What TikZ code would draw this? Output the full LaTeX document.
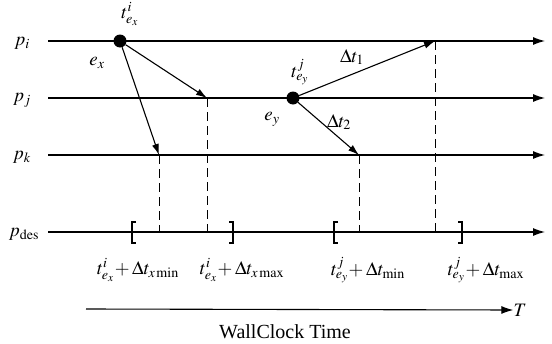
\documentclass[tikz,border=0pt]{standalone}
\usepackage{mathptmx}
\usepackage{fontspec}
\setmainfont{Liberation Serif}
\usetikzlibrary{arrows.meta}
\begin{document}
\begin{tikzpicture}[x=1pt,y=-1pt,
  lane/.style={line width=1.1pt,-{Latex[length=12pt,width=8pt]}},
  msg/.style={line width=1.1pt,-{Latex[length=11pt,width=7pt]}},
  guide/.style={line width=0.8pt,dash pattern=on 9pt off 5pt},
  lbl/.style={font=\fontsize{19}{21}\selectfont,inner sep=0pt},
  evt/.style={circle,fill=black,minimum size=13pt,inner sep=0pt},
  brk/.style={line width=1.4pt}]
\useasboundingbox (0,0) rectangle (552,343);
% lane ends
\coordinate (li0) at (48,41);  \coordinate (li1) at (545,41);
\coordinate (lj0) at (48,98);  \coordinate (lj1) at (545,98);
\coordinate (lk0) at (48,155); \coordinate (lk1) at (545,155);
\coordinate (ld0) at (48,232); \coordinate (ld1) at (545,232);
\draw[lane] (li0) -- (li1);
\draw[lane] (lj0) -- (lj1);
\draw[lane] (lk0) -- (lk1);
\draw[lane] (ld0) -- (ld1);
\node[lbl] (pi) at (22,43) {$p_i$};
\node[lbl] (pj) at (22,100) {$p_j$};
\node[lbl] (pk) at (22,157) {$p_k$};
\node[lbl] (pd) at (24,234) {$p_{\mathrm{des}}$};
% events
\node[evt] (ex) at (120,41) {};
\node[evt] (ey) at (293,98) {};
\coordinate (rj) at (207,98);
\coordinate (rk) at (159,155);
\coordinate (ri) at (435,41);
\coordinate (rk2) at (359,155);
\coordinate (dj) at (207,232);
\coordinate (dk) at (159,232);
\coordinate (di) at (435,232);
\coordinate (dk2) at (359,232);
\draw[msg] (ex) -- (rj);
\draw[msg] (ex) -- (rk);
\draw[msg] (ey) -- (ri);
\draw[msg] (ey) -- (rk2);
\draw[guide] (rj) -- (dj);
\draw[guide] (rk) -- (dk);
\draw[guide] (ri) -- (di);
\draw[guide] (rk2) -- (dk2);
% brackets
\coordinate (b1) at (132,222);
\coordinate (b2) at (233,222);
\coordinate (b3) at (334,222);
\coordinate (b4) at (462,222);
\draw[brk] ([xshift=4pt]b1) -- (b1) -- ++(0,21) -- ++(4,0);
\draw[brk] ([xshift=-4pt]b2) -- (b2) -- ++(0,21) -- ++(-4,0);
\draw[brk] ([xshift=4pt]b3) -- (b3) -- ++(0,21) -- ++(4,0);
\draw[brk] ([xshift=-4pt]b4) -- (b4) -- ++(0,21) -- ++(-4,0);
% labels
\node[lbl] (tex) at (130,14) {$t^{i}_{e_x}$};
\node[lbl] (lex) at (97,63) {$e_x$};
\node[lbl] (tey) at (300,72) {$t^{j}_{e_y}$};
\node[lbl] (ley) at (272,119) {$e_y$};
\node[lbl] (dt1) at (352,57) {$\Delta t_1$};
\node[lbl] (dt2) at (339,122) {$\Delta t_2$};
\node[lbl] (m1) at (138,270) {$t^{i}_{e_x}\!+\Delta t_{x\,\mathrm{min}}$};
\node[lbl] (m2) at (242,270) {$t^{i}_{e_x}\!+\Delta t_{x\,\mathrm{max}}$};
\node[lbl] (m3) at (368,270) {$t^{j}_{e_y}\!+\Delta t_{\mathrm{min}}$};
\node[lbl] (m4) at (486,270) {$t^{j}_{e_y}\!+\Delta t_{\mathrm{max}}$};
% time axis
\coordinate (t0) at (86,309);
\node[lbl] (T) at (520,310) {$T$};
\draw[lane] (t0) -- (T.west);
\node[lbl,font=\fontsize{20}{22}\selectfont] (wc) at (285,332) {WallClock Time};
\end{tikzpicture}
\end{document}
